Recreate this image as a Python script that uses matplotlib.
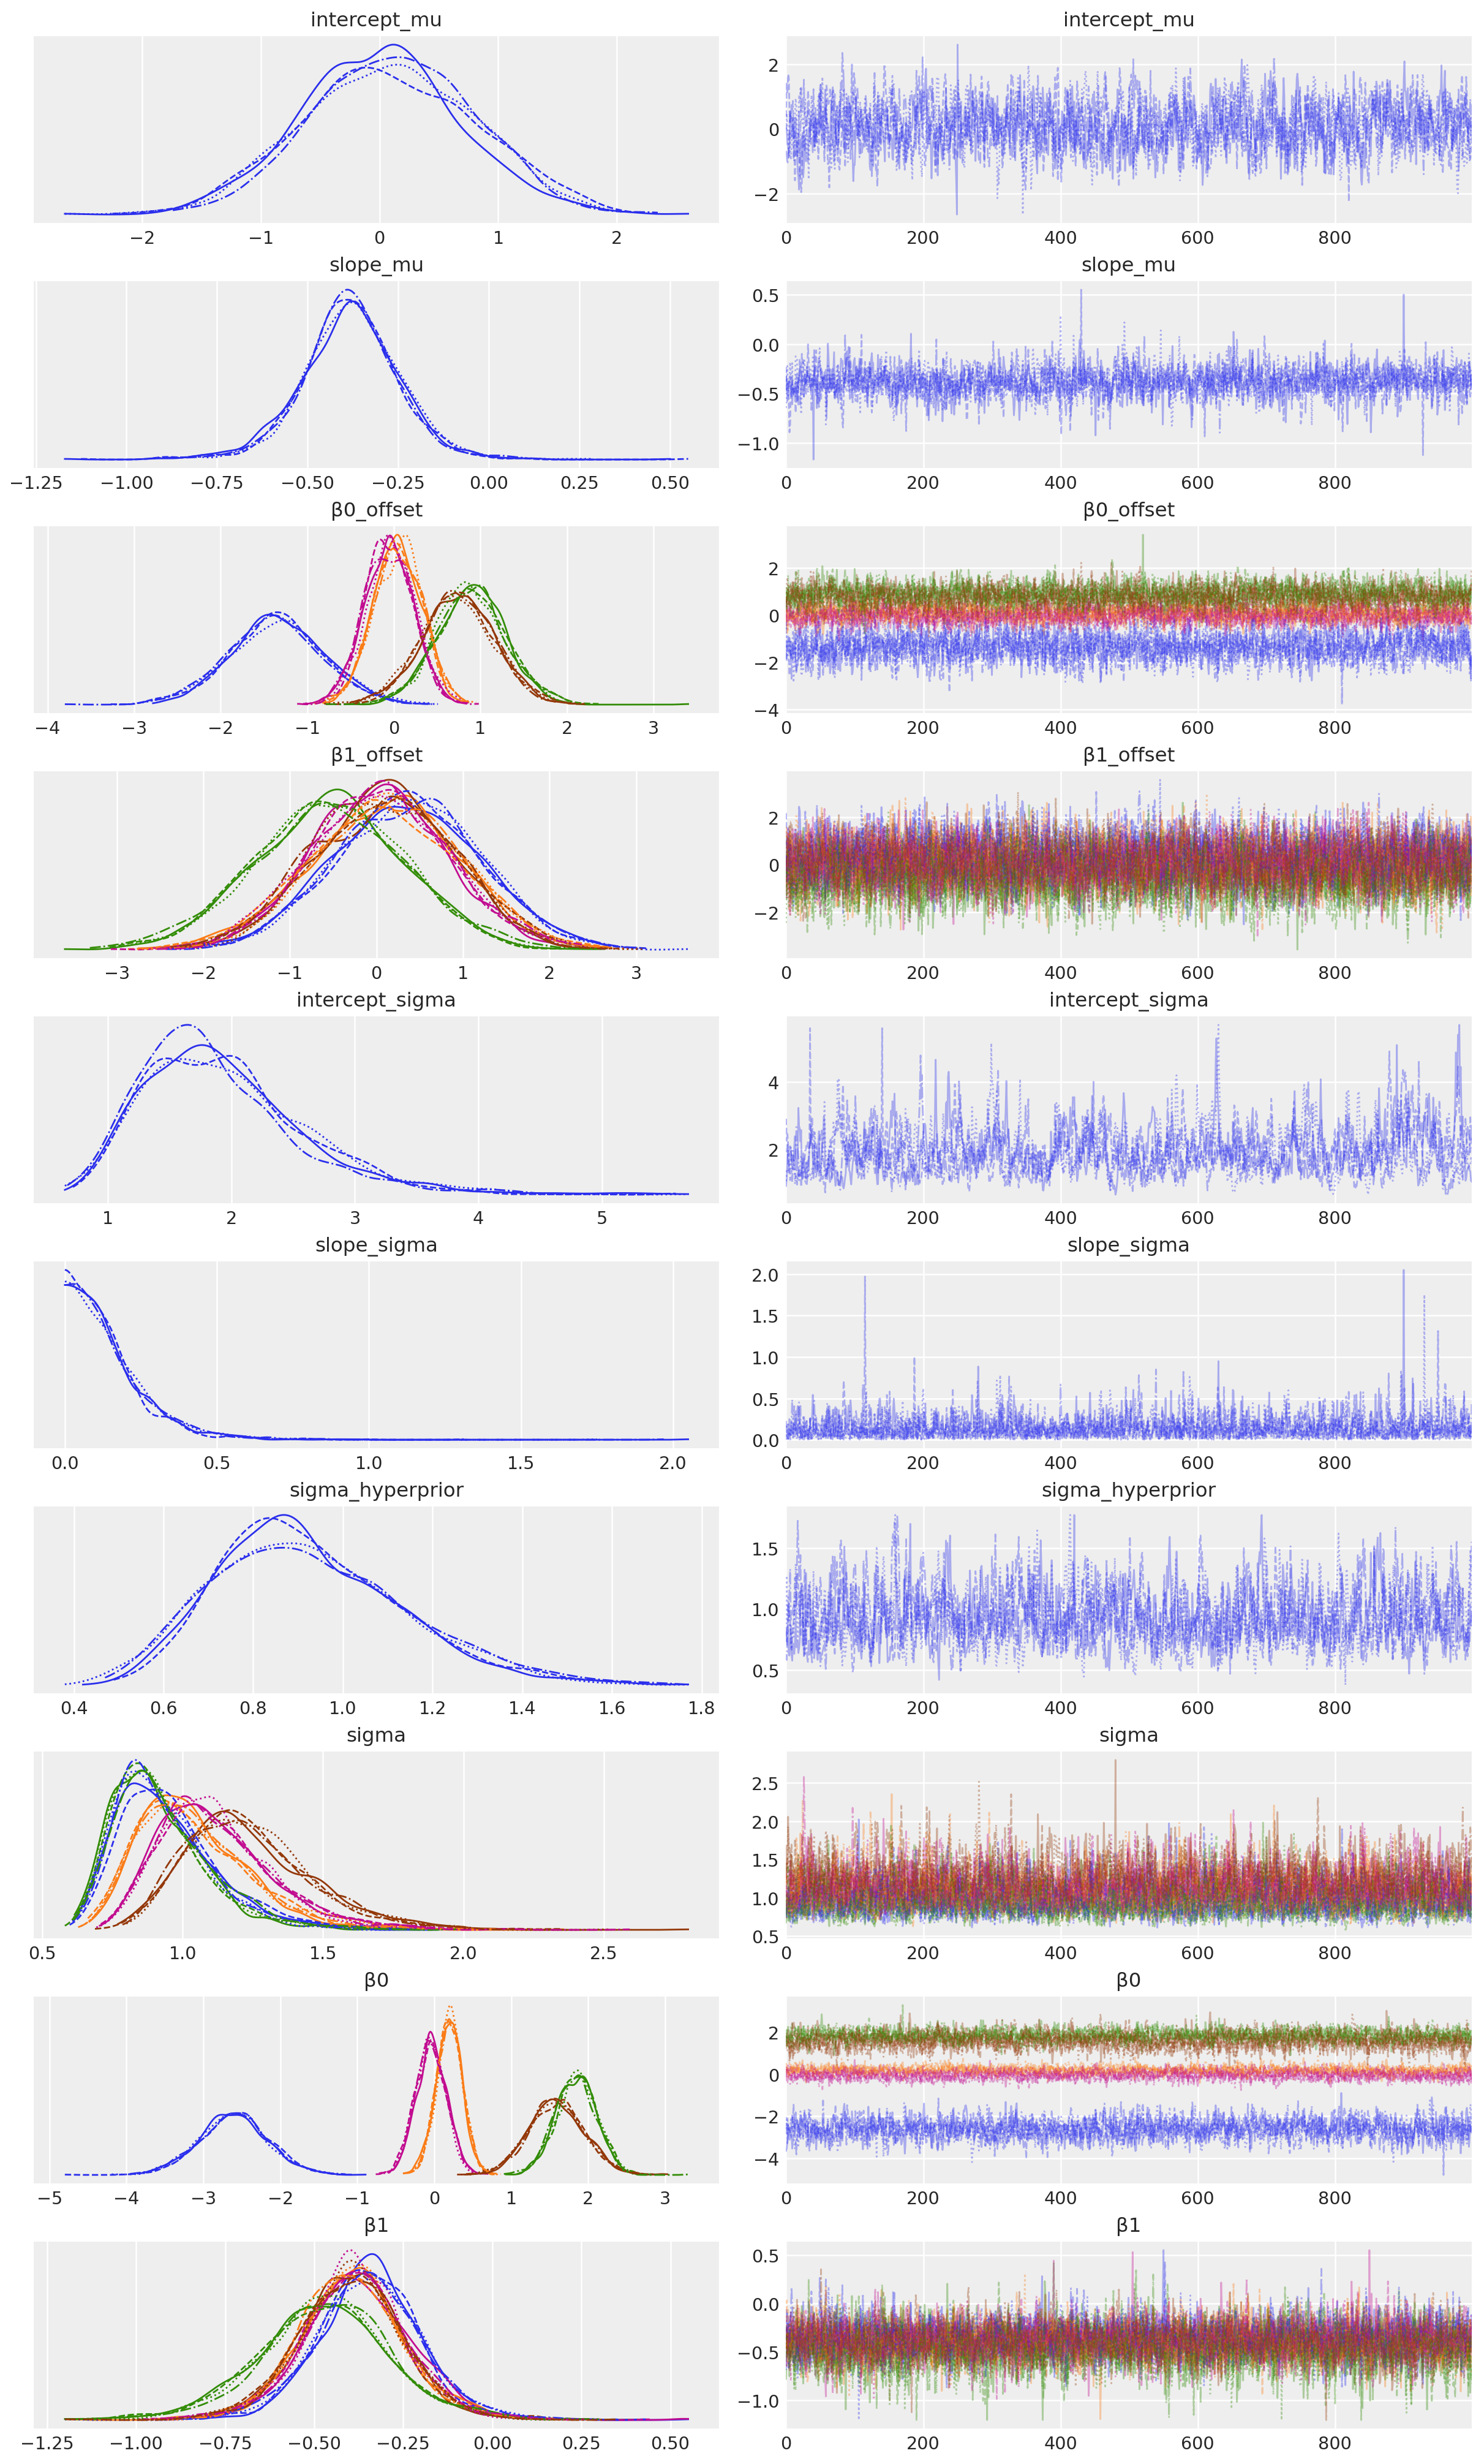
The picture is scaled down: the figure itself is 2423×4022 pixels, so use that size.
# Trace plot (KDE per chain on the left, draws on the right)
import numpy as np
import matplotlib
matplotlib.use('Agg')  # Must be called before importing pyplot
import matplotlib.pyplot as plt

# Sampler layout
n_draws = 1000
n_chains = 4
chain_styles = ['-', '--', ':', '-.']
group_colors = ['#2a2eec', '#fa7c17', '#328c06', '#c10c90', '#933708']

var_names = ['intercept_mu', 'slope_mu', 'β0_offset', 'β1_offset', 'intercept_sigma',
             'slope_sigma', 'sigma_hyperprior', 'sigma', 'β0', 'β1']

# Shape of each posterior and its autocorrelation, judged from the picture
var_kinds = ['normal', 't', 'normal', 'normal', 'lognormal',
             'halft', 'lognormal', 'shiftlog', 'normal', 't']
var_phi = [0.6, 0.4, 0.4, 0.35, 0.8, 0.65, 0.7, 0.5, 0.4, 0.3]

# Smallest and largest draw seen for each variable
var_low = [-2.65, -1.17, -3.8, -3.7, 0.65, 0.0, 0.38, 0.57, -4.8, -1.2]
var_high = [2.6, 0.55, 3.45, 3.65, 5.7, 2.05, 1.77, 2.8, 3.35, 0.55]

# Centre (median) and spread of every coordinate
intercept_mu_center = [0.1]
intercept_mu_spread = [0.7]
slope_mu_center = [-0.38]
slope_mu_spread = [0.12]
b0_offset_center = [-1.35, 0.05, 0.9, -0.05, 0.75]
b0_offset_spread = [0.55, 0.28, 0.4, 0.28, 0.42]
b1_offset_center = [0.35, 0.1, -0.55, 0.05, 0.1]
b1_offset_spread = [0.85, 0.85, 0.85, 0.8, 0.8]
intercept_sigma_center = [1.85]
intercept_sigma_spread = [0.33]   # log scale
slope_sigma_center = [0.0]
slope_sigma_spread = [0.16]
sigma_hyperprior_center = [0.9]
sigma_hyperprior_spread = [0.23]  # log scale
sigma_shift = 0.5                 # sigma draws sit above this floor
sigma_center = [0.41, 0.5, 0.39, 0.59, 0.71]   # median above the floor
sigma_spread = [0.4, 0.38, 0.4, 0.33, 0.3]     # log scale
b0_center = [-2.6, 0.2, 1.85, -0.05, 1.6]
b0_spread = [0.45, 0.17, 0.27, 0.2, 0.36]
b1_center = [-0.35, -0.4, -0.47, -0.38, -0.4]
b1_spread = [0.13, 0.13, 0.16, 0.13, 0.13]

centers = [intercept_mu_center, slope_mu_center, b0_offset_center, b1_offset_center,
           intercept_sigma_center, slope_sigma_center, sigma_hyperprior_center,
           sigma_center, b0_center, b1_center]
spreads = [intercept_mu_spread, slope_mu_spread, b0_offset_spread, b1_offset_spread,
           intercept_sigma_spread, slope_sigma_spread, sigma_hyperprior_spread,
           sigma_spread, b0_spread, b1_spread]

# Visible spikes in the trace panels: (variable, group, chain, draw, value)
spikes = [
    (0, 0, 0, 250, 2.6), (0, 0, 2, 345, -2.65), (0, 0, 1, 820, -2.25),
    (1, 0, 1, 430, 0.55), (1, 0, 0, 900, 0.5), (1, 0, 0, 40, -1.17),
    (2, 2, 0, 520, 3.4), (2, 0, 3, 810, -3.8),
    (3, 2, 0, 745, -3.6), (3, 0, 2, 545, 3.6),
    (4, 0, 1, 35, 5.6), (4, 0, 1, 140, 5.6), (4, 0, 0, 890, 5.1),
    (5, 0, 3, 115, 1.97), (5, 0, 0, 900, 2.05), (5, 0, 2, 930, 1.75),
    (6, 0, 0, 420, 1.77), (6, 0, 2, 815, 0.38),
    (7, 4, 0, 480, 2.8),
    (8, 0, 1, 958, -4.8), (8, 2, 3, 170, 3.3),
    (9, 3, 0, 505, 0.53), (9, 3, 0, 850, 0.55), (9, 2, 1, 190, -1.2),
]

# Draws are not readable one by one: they are synthesised around the values above
rng = np.random.default_rng(7)


def make_chain(kind, center, spread, phi):
    z = np.empty(n_draws)
    z[0] = rng.standard_normal()
    eps = rng.standard_normal(n_draws) * np.sqrt(1 - phi ** 2)
    for t in range(1, n_draws):
        z[t] = phi * z[t - 1] + eps[t]
    if kind == 'normal':
        return center + spread * z
    if kind == 't':
        return center + spread * z / np.sqrt(rng.chisquare(8, n_draws) / 8)
    if kind == 'halft':
        return np.abs(spread * z / np.sqrt(rng.chisquare(6, n_draws) / 6))
    if kind == 'shiftlog':
        return sigma_shift + center * np.exp(spread * z)
    return center * np.exp(spread * z)  # lognormal


def kde_curve(x, lower=None):
    bw = 0.8 * 1.06 * x.std() * len(x) ** -0.2
    start = x.min() if lower is None else lower
    grid = np.linspace(start, x.max(), 400)
    dens = np.exp(-0.5 * ((grid[:, None] - x[None, :]) / bw) ** 2).sum(axis=1)
    if lower is not None:
        x_ref = 2 * lower - x
        dens += np.exp(-0.5 * ((grid[:, None] - x_ref[None, :]) / bw) ** 2).sum(axis=1)
    return grid, dens / (len(x) * bw * np.sqrt(2 * np.pi))


samples = []
for v in range(len(var_names)):
    arr = np.empty((n_chains, len(centers[v]), n_draws))
    for c in range(n_chains):
        for g in range(len(centers[v])):
            arr[c, g] = make_chain(var_kinds[v], centers[v][g], spreads[v][g], var_phi[v])
    samples.append(np.clip(arr, var_low[v], var_high[v]))
for v, g, c, d, val in spikes:
    samples[v][c, g, d] = val

# Style
text_color = '#262626'
plt.rcParams['font.family'] = ['DejaVu Sans']
plt.rcParams['text.color'] = text_color

fig, axes = plt.subplots(
    len(var_names), 2, figsize=(12.115, 20.115), dpi=200,
    gridspec_kw=dict(left=0.0227, right=0.9917, top=0.98509, bottom=0.01442,
                     wspace=0.0973, hspace=0.3115)
)

draw_idx = np.arange(n_draws)
for v, name in enumerate(var_names):
    ax_kde, ax_tr = axes[v]
    n_groups = len(centers[v])
    lower = 0.0 if var_kinds[v] == 'halft' else None

    for c in range(n_chains):
        for g in range(n_groups):
            color = group_colors[g]
            grid, dens = kde_curve(samples[v][c, g], lower)
            ax_kde.plot(grid, dens, color=color, linestyle=chain_styles[c], lw=1.0)
            ax_tr.plot(draw_idx, samples[v][c, g], color=color,
                       linestyle=chain_styles[c], lw=1.0, alpha=0.35)

    for ax in (ax_kde, ax_tr):
        ax.set_facecolor('#eeeeee')
        ax.set_axisbelow(True)
        ax.grid(True, color='white', lw=0.9)
        for s in ax.spines.values():
            s.set_visible(False)
        ax.tick_params(length=0, labelsize=10.3, colors=text_color, pad=4)
        ax.set_title(name, fontsize=11.7, color=text_color)

    ax_kde.set_yticks([])
    ax_tr.set_xlim(0, n_draws - 1)
    ax_tr.set_xticks([0, 200, 400, 600, 800])

plt.savefig('out.png', dpi=200)
